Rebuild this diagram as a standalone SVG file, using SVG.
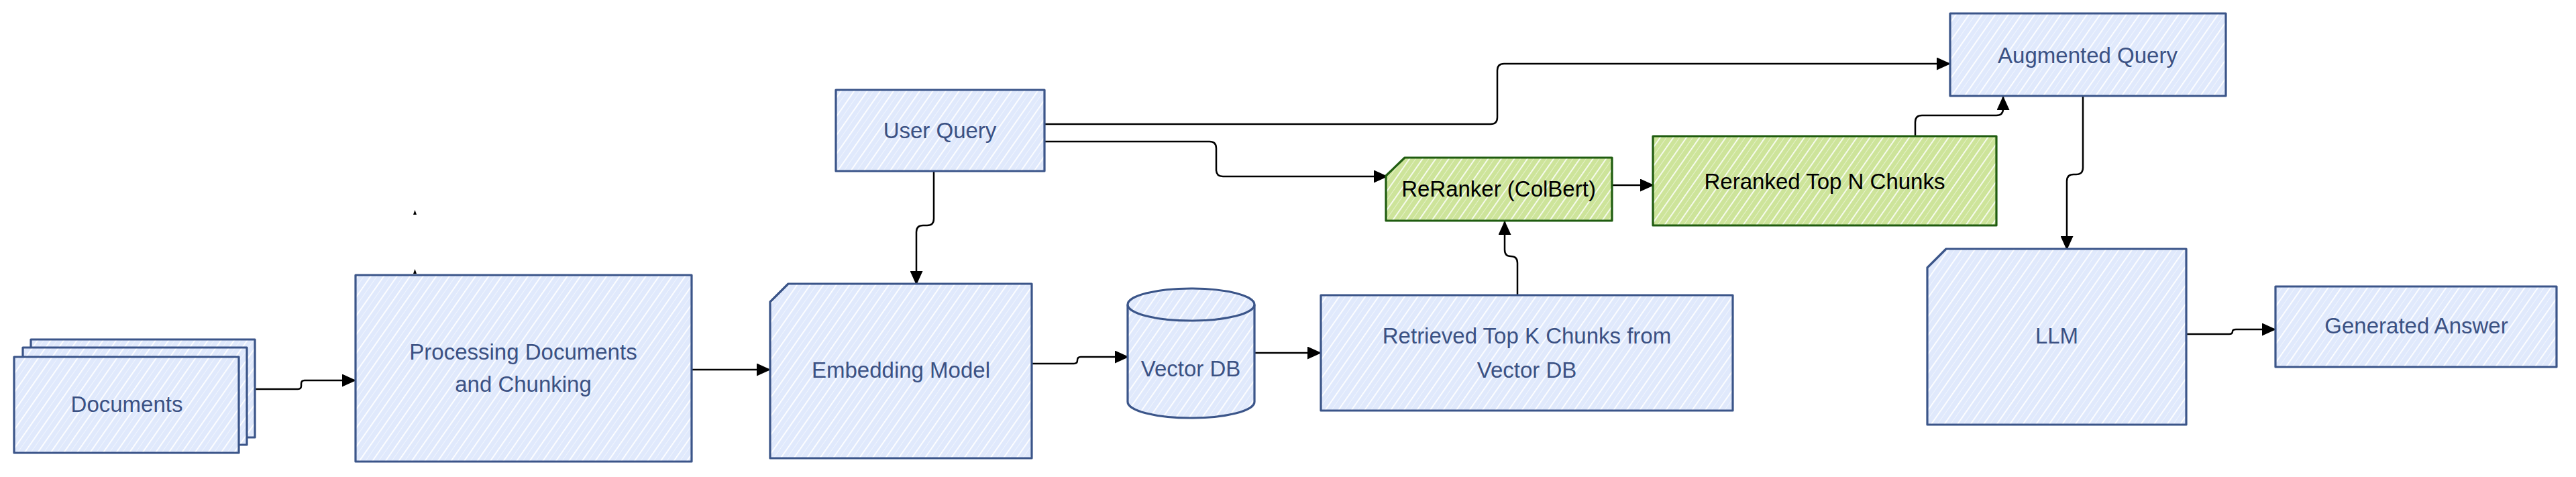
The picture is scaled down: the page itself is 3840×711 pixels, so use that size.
<svg xmlns="http://www.w3.org/2000/svg" width="3840" height="711" viewBox="0 0 3840 711">
<defs>
<pattern id="hb" width="16" height="16" patternUnits="userSpaceOnUse" patternTransform="rotate(35)">
<rect width="16" height="16" fill="#e0e9fc"/>
<rect x="0" y="0" width="1.8" height="16" fill="#ffffff"/>
<rect x="8" y="0" width="0.8" height="16" fill="#ffffff" fill-opacity="0.6"/>
</pattern>
<pattern id="hg" width="16" height="16" patternUnits="userSpaceOnUse" patternTransform="rotate(35)">
<rect width="16" height="16" fill="#cde49a"/>
<rect x="0" y="0" width="1.8" height="16" fill="#ffffff" fill-opacity="0.9"/>
<rect x="8" y="0" width="0.8" height="16" fill="#ffffff" fill-opacity="0.6"/>
</pattern>
<marker id="ah" markerUnits="userSpaceOnUse" markerWidth="21" markerHeight="19" refX="20" refY="9.5" orient="auto">
<path d="M0,0 L21,9.5 L0,19 z" fill="#000"/>
</marker>
</defs>
<style>
.b{fill:url(#hb);stroke:#3b5589;stroke-width:3.2;stroke-linejoin:round}
.g{fill:url(#hg);stroke:#1f5c10;stroke-width:3.2;stroke-linejoin:round}
.t{font-family:"Liberation Sans",Arial,sans-serif;font-size:33px;fill:#3b5183;text-anchor:middle}
.k{font-family:"Liberation Sans",Arial,sans-serif;font-size:33px;fill:#000;text-anchor:middle}
.c{fill:none;stroke:#000;stroke-width:2.5;stroke-linejoin:round}
</style>
<rect width="3840" height="711" fill="#ffffff"/>

<g id="connectors">
<path class="c" d="M379,580 H444 Q449,580 449,575 V572 Q449,567 454,567 H530" marker-end="url(#ah)"/>
<path class="c" d="M1031,551 H1148" marker-end="url(#ah)"/>
<path class="c" d="M1392,255 V326 Q1392,336 1382,336 H1376 Q1366,336 1366,346 V424" marker-end="url(#ah)"/>
<path class="c" d="M1557,211 H1803 Q1813,211 1813,221 V253 Q1813,263 1823,263 H2068" marker-end="url(#ah)"/>
<path class="c" d="M1557,185 H2222 Q2232,185 2232,175 V105 Q2232,95 2242,95 H2907" marker-end="url(#ah)"/>
<path class="c" d="M2403,276 H2465" marker-end="url(#ah)"/>
<path class="c" d="M2262,440 V392 Q2262,382 2252,382 Q2243,382 2243,372 V330" marker-end="url(#ah)"/>
<path class="c" d="M2855,203 V182 Q2855,172 2865,172 H2976 Q2986,172 2986,162 V144" marker-end="url(#ah)"/>
<path class="c" d="M3105,144 V250 Q3105,260 3095,260 H3091 Q3081,260 3081,270 V372" marker-end="url(#ah)"/>
<path class="c" d="M3259,498 H3323 Q3328,498 3328,494 Q3328,491 3333,491 H3392" marker-end="url(#ah)"/>
<path class="c" d="M1538,542 H1601 Q1606,542 1606,537 Q1606,532 1611,532 H1682" marker-end="url(#ah)"/>
<path class="c" d="M1870,526 H1969" marker-end="url(#ah)"/>
<path d="M616,320 L618.5,313 L621,320 z" fill="#000"/>
<path d="M616,408 L618.5,401 L621,408 z" fill="#000"/>
</g>

<g id="documents">
<rect class="b" x="46" y="506" width="334" height="146"/>
<rect class="b" x="34" y="518" width="334" height="145"/>
<rect class="b" x="21" y="532" width="335" height="143"/>
<text class="t" x="189" y="614">Documents</text>
</g>

<g id="processing">
<rect class="b" x="530" y="410" width="501" height="278"/>
<text class="t" x="780" y="536">Processing Documents</text>
<text class="t" x="780" y="584">and Chunking</text>
</g>

<g id="user-query">
<rect class="b" x="1246" y="134" width="311" height="121"/>
<text class="t" x="1401" y="206">User Query</text>
</g>

<g id="embedding-model">
<path class="b" d="M1175,423 H1538 V683 H1148 V450 Z"/>
<text class="t" x="1343" y="563">Embedding Model</text>
</g>

<g id="vector-db">
<path class="b" d="M1681,454 A94.5,24 0 0 1 1870,454 V599 A94.5,24 0 0 1 1681,599 Z"/>
<path d="M1681,454 A94.5,24 0 0 0 1870,454" fill="none" stroke="#3b5589" stroke-width="3.2"/>
<text class="t" x="1775" y="561">Vector DB</text>
</g>

<g id="retrieved">
<rect class="b" x="1969" y="440" width="614" height="172"/>
<text class="t" x="2276" y="512">Retrieved Top K Chunks from</text>
<text class="t" x="2276" y="563">Vector DB</text>
</g>

<g id="reranker">
<path class="g" d="M2094,235 H2403 V329 H2066 V262 Z"/>
<text class="k" x="2234" y="293">ReRanker (ColBert)</text>
</g>

<g id="reranked">
<rect class="g" x="2464" y="203" width="512" height="133"/>
<text class="k" x="2720" y="282">Reranked Top N Chunks</text>
</g>

<g id="augmented-query">
<rect class="b" x="2907" y="20" width="411" height="123"/>
<text class="t" x="3112" y="94">Augmented Query</text>
</g>

<g id="llm">
<path class="b" d="M2901,371 H3259 V633 H2873 V399 Z"/>
<text class="t" x="3066" y="512">LLM</text>
</g>

<g id="generated-answer">
<rect class="b" x="3392" y="427" width="419" height="120"/>
<text class="t" x="3602" y="497">Generated Answer</text>
</g>
</svg>
